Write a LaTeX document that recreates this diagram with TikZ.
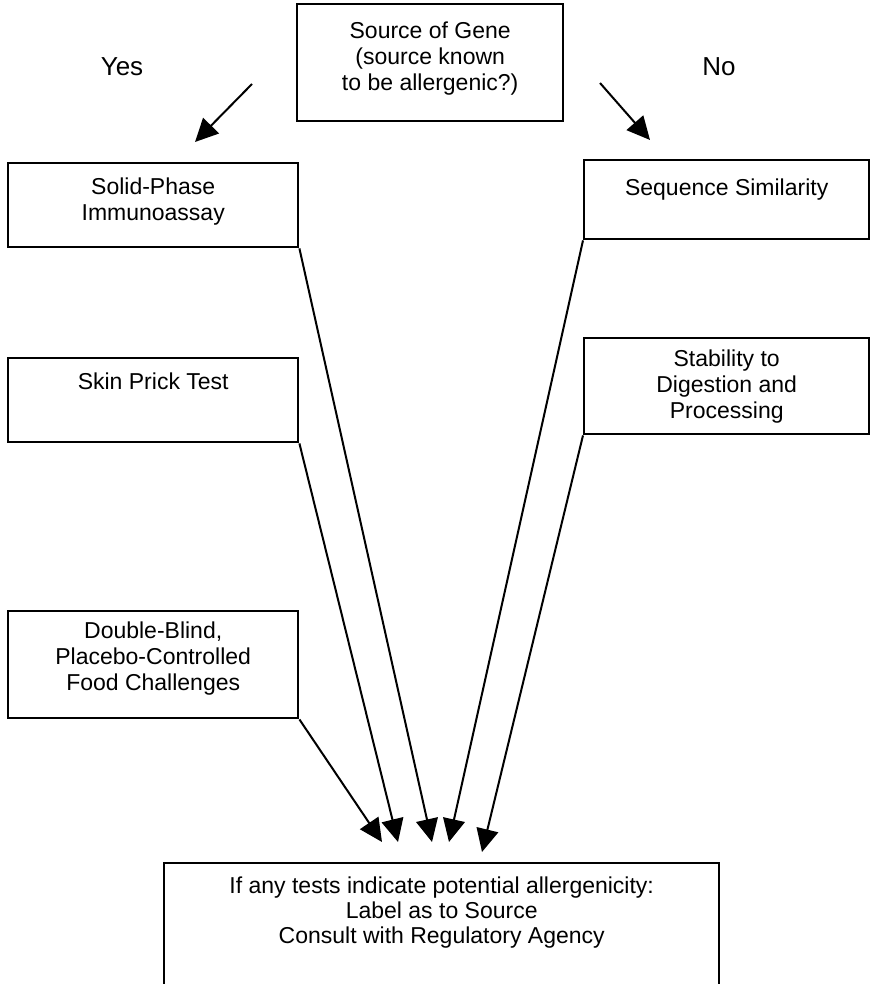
\documentclass[tikz,border=0pt]{standalone}
\usepackage{fontspec}
\setmainfont{Liberation Sans}
\usetikzlibrary{arrows.meta}
\newcommand{\boxtext}[4]{\parbox[c][#2][t]{#1}{\centering\vspace*{#3}#4}}

\begin{document}
\begin{tikzpicture}[x=0.5pt,y=-0.5pt,
  font=\fontsize{11.5}{13}\selectfont,
  testbox/.style={draw,line width=1.2pt,anchor=north west,inner sep=0pt},
  answer/.style={font=\fontsize{13}{15}\selectfont},
  flow/.style={line width=1pt,-{Triangle[length=11.5pt,width=11pt]}}]

\useasboundingbox (0,0) rectangle (870,984);

% question
\node[testbox] (src) at (296,3) {\boxtext{133pt}{58.5pt}{9pt}{Source of Gene\\(source known\\to be allergenic?)}};
\node[answer] (yes) at (122,67) {Yes};
\node[answer] (no) at (719,67) {No};

% yes side
\node[testbox] (spia) at (7,162) {\boxtext{145pt}{42pt}{7.5pt}{Solid-Phase\\Immunoassay}};
\node[testbox] (spt) at (7,357) {\boxtext{145pt}{42pt}{7.5pt}{Skin Prick Test}};
\node[testbox] (dbpc) at (7,610) {\boxtext{145pt}{53.5pt}{5.5pt}{Double-Blind,\\Placebo-Controlled\\Food Challenges}};

% no side
\node[testbox] (seq) at (583,159) {\boxtext{142.5pt}{39.5pt}{9.5pt}{Sequence Similarity}};
\node[testbox] (stab) at (583,337) {\boxtext{142.5pt}{48pt}{6pt}{Stability to\\Digestion and\\Processing}};

% outcome
\node[testbox,font=\fontsize{11.5}{12.3}\selectfont] (act) at (163,862)
  {\boxtext{277.5pt}{68pt}{7pt}{If any tests indicate potential allergenicity:\\Label as to Source\\Consult with Regulatory Agency}};

% arrow ends
\coordinate (yes tail) at (252,84);
\coordinate (yes tip) at (195,142);
\coordinate (no tail) at (600,83);
\coordinate (no tip) at (650,140);
\coordinate (t1) at (382,842);
\coordinate (t2) at (398,842);
\coordinate (t3) at (432,842);
\coordinate (t4) at (449,842);
\coordinate (t5) at (482,852);

% arrows
\draw[flow] (yes tail) -- (yes tip);
\draw[flow] (no tail) -- (no tip);
\draw[flow] (dbpc.south east) -- (t1);
\draw[flow] (spt.south east) -- (t2);
\draw[flow] (spia.south east) -- (t3);
\draw[flow] (seq.south west) -- (t4);
\draw[flow] (stab.south west) -- (t5);
\end{tikzpicture}
\end{document}
